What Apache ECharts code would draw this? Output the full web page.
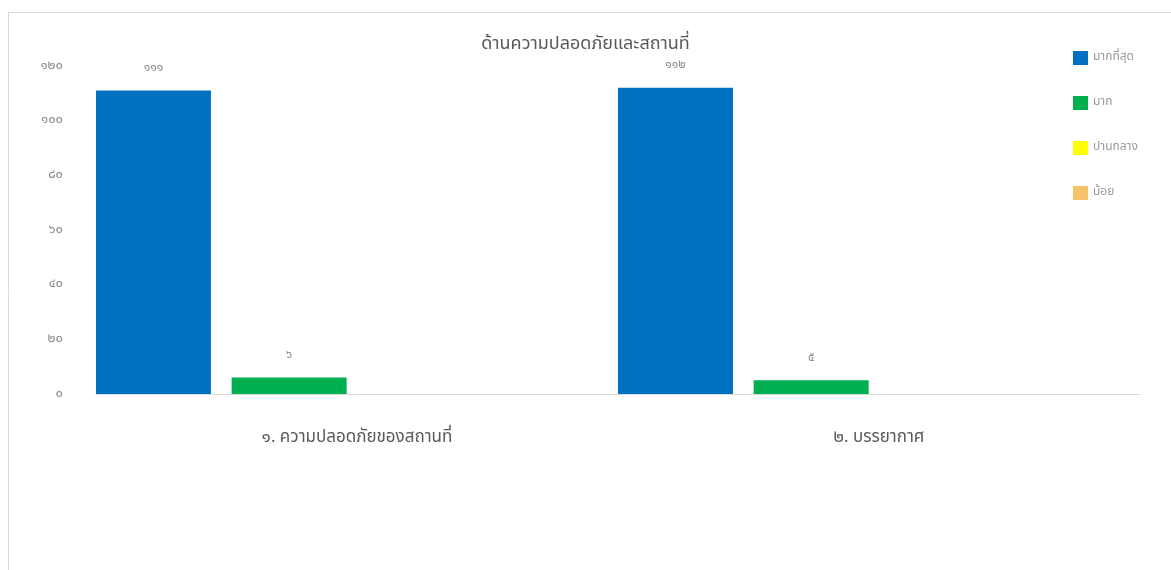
<!DOCTYPE html>
<html>
<head>
<meta charset="utf-8">
<script src="https://cdn.jsdelivr.net/npm/echarts@6/dist/echarts.min.js"></script>
<style>html,body{margin:0;padding:0;background:#fff;}#c{width:1171px;height:570px;}</style>
</head>
<body>
<div id="c"></div>
<script>
const categories = ['๑. ความปลอดภัยของสถานที่', '๒. บรรยากาศ'];
const seriesNames = ['มากที่สุด', 'มาก', 'ปานกลาง', 'น้อย'];
const valuesMost = [111, 112];
const valuesMuch = [6, 5];
const valuesMedium = [0, 0];
const valuesLittle = [0, 0];
const yTickLabels = ['๐', '๒๐', '๔๐', '๖๐', '๘๐', '๑๐๐', '๑๒๐'];
const titleText = 'ด้านความปลอดภัยและสถานที่';

const thaiDigits = ['๐','๑','๒','๓','๔','๕','๖','๗','๘','๙'];
function toThai(n){ return String(n).replace(/[0-9]/g, d => thaiDigits[+d]); }

const FONT = "'Noto Sans Thai', 'Noto Sans', 'DejaVu Sans', sans-serif";
const colors = ['#0070C0', '#00B050', '#FFFF00', '#F6C36B'];
const dataSets = [valuesMost, valuesMuch, valuesMedium, valuesLittle];

const chart = echarts.init(document.getElementById('c'));
chart.setOption({
  animation: false,
  backgroundColor: '#fff',
  graphic: [{
    type: 'rect', left: 6, top: 10, z: -1,
    shape: { width: 1180, height: 580 },
    style: { fill: 'none', stroke: '#D9D9D9', lineWidth: 1 }
  }],
  title: {
    text: titleText, left: 'center', top: 31,
    textStyle: { fontFamily: FONT, fontSize: 18, fontWeight: 'normal', color: '#595959' }
  },
  legend: {
    orient: 'vertical', left: 1068, top: 46, itemGap: 31,
    itemWidth: 15, itemHeight: 14, icon: 'rect',
    textStyle: { fontFamily: FONT, fontSize: 12, color: '#999999' },
    data: seriesNames
  },
  grid: { left: 96, right: 31, top: 66, bottom: 176 },
  xAxis: {
    type: 'category', data: categories,
    axisLine: { lineStyle: { color: '#D9D9D9' } },
    axisTick: { show: false },
    axisLabel: { fontFamily: FONT, fontSize: 17, color: '#595959', margin: 36 }
  },
  yAxis: {
    type: 'value', min: 0, max: 120, interval: 20,
    splitLine: { show: false },
    axisLine: { show: false }, axisTick: { show: false },
    axisLabel: {
      fontFamily: FONT, fontSize: 13, color: '#8c8c8c', margin: 33,
      formatter: v => yTickLabels[Math.round(v / 20)]
    }
  },
  series: seriesNames.map((name, i) => ({
    name, type: 'bar', data: dataSets[i],
    barWidth: 115, barGap: '18%', barCategoryGap: 0,
    itemStyle: { color: colors[i] },
    label: {
      show: true, position: 'top', distance: 16,
      fontFamily: FONT, fontSize: 12, color: '#8c8c8c',
      formatter: p => p.value ? toThai(p.value) : ''
    }
  }))
});
</script>
</body>
</html>
